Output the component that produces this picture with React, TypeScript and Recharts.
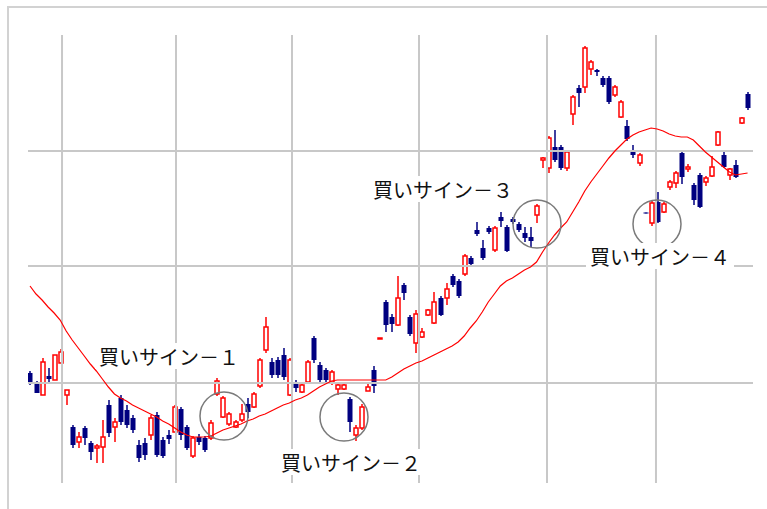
import React from 'react';
import { ComposedChart, Bar, Line, XAxis, YAxis, ReferenceLine, ReferenceDot } from 'recharts';

// Daily candles (arbitrary price units), index 1..120
const opens = [147,137,125,144,140,157,125,93,78,92,77,72,73,115,93,122,110,102,75,77,85,105,80,85,88,111,93,64,83,82,82,126,103,96,93,100,116,113,134,170,158,160,165,125,137,128,138,182,155,150,138,131,131,121,85,92,129,150,181,218,203,195,235,203,177,183,205,197,222,222,244,239,246,262,290,272,292,270,303,293,301,296,287,283,305,360,352,373,373,352,406,432,433,451,450,442,442,425,403,394,370,357,307.5,297,318,308,333,337,367,351,335,345,338,344,375,365,345,355,397,426];
const highs = [149,139,162,152,165,171,130,95,88,94,79,76,100,120,102,125,115,105,80,82,105,108,83,90,115,113,95,84,86,84,100,142,124,108,100,116,122,128,162,203,162,163,172,162,140,137,160,184,158,152,150,137,137,123,95,116,138,154,182,220,206,244,237,205,210,192,211,228,224,237,246,241,266,264,298,280,294,294,308,295,303,298,293,293,316,363,384,390,375,370,425,435,474,460,451,444,444,435,420,400,375,367,307.5,319,328,318,340,349,369,356,337,347,344,364,389,370,352,360,403,428];
const lows = [135,127,125,137,140,157,115,72,72,75,60,57,57,83,78,95,92,87,58,60,80,63,62,76,88,80,70,62,75,68,80,124,102,94,92,98,102,112,132,167,142,142,140,124,128,127,137,157,138,138,135,125,130,88,79,90,129,127,181,188,188,194,220,184,167,182,204,196,204,215,233,222,244,254,284,260,286,268,293,268,296,288,278,273,297,352,347,358,350,349,395,413,427,445,444,433,416,423,402,379,362,354,306.5,294,297,307,330,332,336,348,315,312,334,343,374,352,340,342,396,410];
const closes = [137,127,158,141,165,168,130,75,83,82,68,74,83,87,98,98,95,90,62,65,102,65,64,81,113,85,72,82,78,70,97,139,122,106,98,106,108,126,160,193,145,145,143,160,132,135,158,160,140,140,148,135,135,98,92,113,133,134,182,195,196,222,227,186,206,188,210,218,205,231,235,224,264,256,286,262,288,292,299,269,298,290,282,279,314,362,382,360,352,368,423,427,472,458,448,435,418,433,418,381,365,365,306.5,317,298,316,338,347,343,353,320,313,342,353,388,353,351,343,402,412];
// 25-day moving average read at each candle
const movingAvg = [234,226,220,213,207,200,189,180,172,164,156,149,141,133,126,122,119,115,112,109,106,103,99,96,92,88,85,83,83,83,84,87,90,92,94,96,99,101,104,106,109,112,115,117,120,122,125,129,133,136,139,140,140,140,140,140,140,140,140,140,143,147,151,154,157,159,162,165,168,171,174,178,184,192,199,208,218,226,234,239,242,246,250,253,258,268,277,285,292,298,308,318,329,338,346,354,362,369,375,381,385,388,390,392,391,389,386,384,383,383,380,374,368,363,358,353,348,345,346,347];

// Month boundaries (x, in day index units) and horizontal grid levels
const monthTicks = [6.31, 25.21, 44.45, 65.51, 86.74, 104.81];
const priceTicks = [137, 254, 369];

// Annotations
const signLabels = ['買いサイン－１', '買いサイン－２', '買いサイン－３', '買いサイン－４'];
const signLabelX = [24.05, 54.23, 69.49, 105.48];
const signLabelY = [164, 58, 331, 264];
const signCircleX = [33.17, 53.07, 85.08, 104.98];
const signCircleY = [104, 103, 296, 296];

const data = opens.map((o, i) => ({
  day: i + 1,
  open: o,
  high: highs[i],
  low: lows[i],
  close: closes[i],
  range: [lows[i], highs[i]],
  ma: movingAvg[i],
}));

const UP = '#ff0000';
const DOWN = '#000080';
const GRID = '#c8c8c8';

const Candle = (props: any) => {
  const { x, y, width, height, payload } = props;
  if (payload == null || x == null) return null;
  const { open, close, high, low } = payload;
  const top = Math.min(y, y + height);
  const h = Math.abs(height);
  const span = high - low || 1;
  const py = (v: number) => top + ((high - v) / span) * h;
  const up = close > open;
  const color = up ? UP : DOWN;
  const cx = Math.round(x + width / 2);
  const bTop = py(Math.max(open, close));
  const bBot = py(Math.min(open, close));
  const bh = Math.max(bBot - bTop, 1);
  return (
    <g>
      <line x1={cx} x2={cx} y1={py(high)} y2={py(low)} stroke={color} strokeWidth={1.5} />
      {up ? (
        <rect x={cx - 2} y={bTop} width={4} height={bh} fill="#ffffff" stroke={color} strokeWidth={1.5} />
      ) : (
        <rect x={cx - 2.5} y={bTop} width={5} height={bh} fill={color} stroke="none" />
      )}
    </g>
  );
};

const LabelShape = (text: string) => (props: any) => {
  const { cx, cy } = props;
  if (cx == null || cy == null) return null;
  return (
    <g>
      <rect x={cx - 74} y={cy - 13} width={148} height={26} fill="#ffffff" />
      <text
        x={cx}
        y={cy}
        textAnchor="middle"
        dominantBaseline="central"
        fontFamily="'Noto Sans CJK JP', sans-serif"
        fontSize={20}
        fill="#111111"
      >
        {text}
      </text>
    </g>
  );
};

export default function App() {
  return (
    <div style={{ position: 'absolute', left: 0, top: 0, width: 767, height: 509, background: '#ffffff' }}>
      <div
        style={{
          position: 'absolute',
          left: 7,
          top: 6,
          right: 0,
          bottom: 0,
          borderTop: '2px solid #d2d2d2',
          borderLeft: '2px solid #d2d2d2',
        }}
      />
      <div style={{ position: 'absolute', left: 0, top: 0 }}>
        <ComposedChart width={767} height={509} data={data} margin={{ top: 35, left: 28, right: 14, bottom: 26 }}>
          <XAxis dataKey="day" type="number" domain={[0.668, 120.9]} ticks={monthTicks} hide allowDataOverflow />
          <YAxis type="number" domain={[37, 485]} ticks={priceTicks} hide allowDataOverflow />
          {monthTicks.map((t) => (
            <ReferenceLine key={'v' + t} x={t} stroke={GRID} strokeWidth={2} />
          ))}
          {priceTicks.map((t) => (
            <ReferenceLine key={'h' + t} y={t} stroke={GRID} strokeWidth={2} />
          ))}
          <Bar dataKey="range" barSize={5} shape={Candle} isAnimationActive={false} />
          <Line dataKey="ma" type="linear" stroke="#ff0000" strokeWidth={1.2} dot={false} isAnimationActive={false} />
          {signCircleX.map((cx, i) => (
            <ReferenceDot
              key={'c' + i}
              x={cx}
              y={signCircleY[i]}
              r={24}
              fill="none"
              stroke="#7a7a7a"
              strokeWidth={1.5}
              ifOverflow="visible"
            />
          ))}
          {signLabels.map((t, i) => (
            <ReferenceDot
              key={'l' + i}
              x={signLabelX[i]}
              y={signLabelY[i]}
              r={1}
              shape={LabelShape(t)}
              ifOverflow="visible"
            />
          ))}
        </ComposedChart>
      </div>
    </div>
  );
}
